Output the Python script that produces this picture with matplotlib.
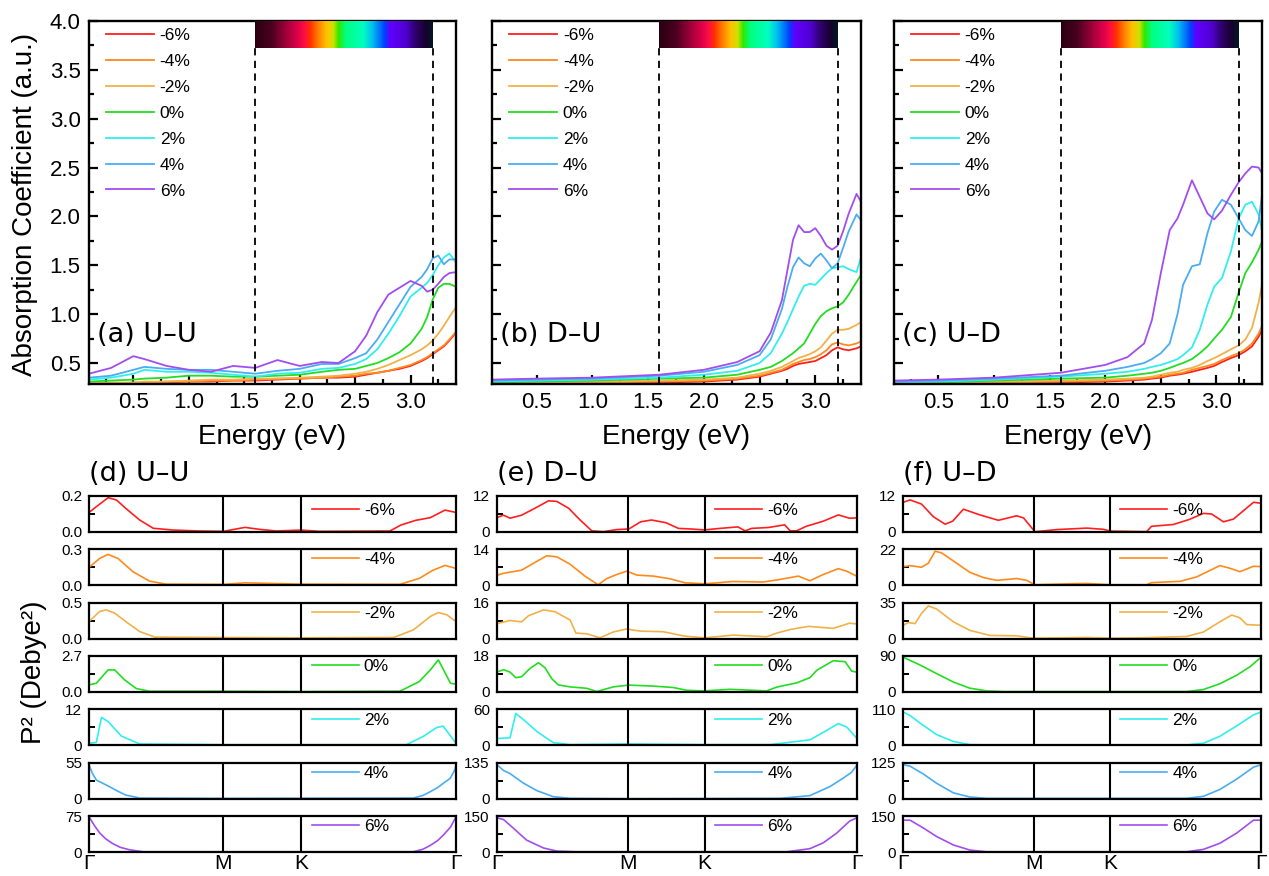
import numpy as np
import matplotlib
matplotlib.use('Agg')
import matplotlib.pyplot as plt
from matplotlib.colors import LinearSegmentedColormap
from matplotlib.ticker import MultipleLocator, FormatStrFormatter

plt.rcParams['font.family'] = ['Liberation Sans', 'DejaVu Sans']

# ------------------------------------------------------------
# datos
# ------------------------------------------------------------
strains = ['-6%', '-4%', '-2%', '0%', '2%', '4%', '6%']
colors = ['#ff1f1f', '#ff8a1c', '#f0b248', '#22dd22', '#30eeee', '#4aacf2', '#a24df0']

# (a) U-U absorption, orden: -6, -4, -2, 0, 2, 4, 6
E_a = [0.10, 0.30, 0.50, 0.60, 0.80, 1.00, 1.20, 1.40, 1.60, 1.80, 2.00, 2.20, 2.35,
       2.50, 2.60, 2.70, 2.80, 2.90, 3.00, 3.10, 3.15, 3.20, 3.25, 3.30, 3.35, 3.41]
abs_a = [
    [0.28, 0.29, 0.29, 0.30, 0.30, 0.31, 0.31, 0.32, 0.32, 0.33, 0.34, 0.35, 0.35,
     0.36, 0.38, 0.40, 0.42, 0.44, 0.47, 0.52, 0.55, 0.59, 0.63, 0.67, 0.73, 0.81],
    [0.29, 0.29, 0.30, 0.30, 0.31, 0.31, 0.32, 0.32, 0.33, 0.34, 0.34, 0.35, 0.36,
     0.37, 0.39, 0.40, 0.42, 0.45, 0.48, 0.53, 0.56, 0.60, 0.64, 0.68, 0.74, 0.82],
    [0.29, 0.30, 0.30, 0.31, 0.31, 0.32, 0.33, 0.33, 0.34, 0.34, 0.35, 0.36, 0.37,
     0.39, 0.41, 0.44, 0.48, 0.53, 0.58, 0.64, 0.68, 0.73, 0.80, 0.88, 0.97, 1.07],
    [0.31, 0.32, 0.33, 0.34, 0.35, 0.37, 0.37, 0.36, 0.36, 0.37, 0.38, 0.41, 0.43,
     0.44, 0.47, 0.50, 0.55, 0.61, 0.70, 0.85, 0.97, 1.15, 1.27, 1.31, 1.31, 1.28],
    [0.33, 0.35, 0.39, 0.43, 0.41, 0.41, 0.40, 0.38, 0.36, 0.39, 0.40, 0.44, 0.45,
     0.49, 0.54, 0.64, 0.80, 0.98, 1.18, 1.27, 1.32, 1.40, 1.50, 1.58, 1.62, 1.53],
    [0.35, 0.37, 0.43, 0.46, 0.44, 0.43, 0.43, 0.41, 0.39, 0.42, 0.44, 0.49, 0.49,
     0.55, 0.60, 0.74, 0.92, 1.10, 1.28, 1.38, 1.46, 1.57, 1.60, 1.51, 1.56, 1.56],
    [0.39, 0.45, 0.57, 0.54, 0.47, 0.43, 0.41, 0.47, 0.45, 0.53, 0.47, 0.51, 0.50,
     0.62, 0.78, 1.02, 1.20, 1.27, 1.34, 1.29, 1.23, 1.25, 1.31, 1.38, 1.42, 1.43],
]

# (b) D-U
E_b = [0.10, 0.50, 1.00, 1.60, 2.00, 2.30, 2.50, 2.60, 2.70, 2.75, 2.80, 2.85,
       2.90, 2.95, 3.00, 3.05, 3.10, 3.15, 3.20, 3.25, 3.30, 3.37, 3.41]
abs_b = [
    [0.28, 0.29, 0.29, 0.30, 0.31, 0.33, 0.36, 0.39, 0.42, 0.44, 0.47, 0.49,
     0.50, 0.51, 0.52, 0.55, 0.58, 0.63, 0.66, 0.64, 0.63, 0.65, 0.67],
    [0.29, 0.29, 0.30, 0.31, 0.32, 0.34, 0.37, 0.40, 0.43, 0.46, 0.49, 0.51,
     0.53, 0.54, 0.56, 0.59, 0.63, 0.69, 0.71, 0.69, 0.68, 0.70, 0.72],
    [0.29, 0.30, 0.31, 0.32, 0.33, 0.35, 0.39, 0.42, 0.46, 0.49, 0.52, 0.55,
     0.57, 0.59, 0.62, 0.66, 0.73, 0.80, 0.84, 0.84, 0.85, 0.89, 0.92],
    [0.30, 0.31, 0.32, 0.34, 0.35, 0.38, 0.43, 0.46, 0.52, 0.56, 0.60, 0.65,
     0.70, 0.80, 0.90, 0.98, 1.03, 1.06, 1.08, 1.12, 1.20, 1.33, 1.40],
    [0.31, 0.32, 0.33, 0.35, 0.38, 0.42, 0.50, 0.60, 0.80, 0.92, 1.05, 1.18,
     1.29, 1.31, 1.30, 1.36, 1.42, 1.47, 1.48, 1.49, 1.46, 1.43, 1.58],
    [0.32, 0.33, 0.34, 0.37, 0.41, 0.48, 0.58, 0.74, 1.05, 1.28, 1.48, 1.58,
     1.52, 1.49, 1.57, 1.62, 1.55, 1.47, 1.52, 1.68, 1.85, 2.02, 1.96],
    [0.33, 0.34, 0.35, 0.38, 0.43, 0.51, 0.62, 0.81, 1.14, 1.45, 1.76, 1.91,
     1.84, 1.84, 1.88, 1.80, 1.70, 1.66, 1.70, 1.85, 2.03, 2.23, 2.15],
]

# (c) U-D
E_c = [0.10, 0.50, 1.00, 1.60, 2.00, 2.20, 2.35, 2.42, 2.50, 2.58, 2.65, 2.70,
       2.78, 2.85, 2.92, 2.98, 3.05, 3.13, 3.20, 3.26, 3.32, 3.38, 3.41]
abs_c = [
    [0.28, 0.29, 0.29, 0.30, 0.31, 0.32, 0.33, 0.34, 0.35, 0.37, 0.38, 0.39,
     0.41, 0.43, 0.45, 0.47, 0.51, 0.55, 0.58, 0.62, 0.67, 0.77, 0.84],
    [0.29, 0.29, 0.30, 0.31, 0.32, 0.33, 0.34, 0.35, 0.36, 0.38, 0.39, 0.40,
     0.43, 0.45, 0.47, 0.49, 0.53, 0.57, 0.60, 0.64, 0.70, 0.80, 0.88],
    [0.29, 0.30, 0.31, 0.32, 0.33, 0.34, 0.35, 0.36, 0.38, 0.40, 0.41, 0.43,
     0.45, 0.48, 0.52, 0.55, 0.59, 0.64, 0.68, 0.74, 0.86, 1.12, 1.30],
    [0.30, 0.30, 0.32, 0.34, 0.35, 0.37, 0.39, 0.40, 0.42, 0.45, 0.48, 0.50,
     0.54, 0.60, 0.67, 0.75, 0.84, 0.97, 1.22, 1.42, 1.53, 1.66, 1.74],
    [0.30, 0.31, 0.33, 0.36, 0.39, 0.41, 0.44, 0.46, 0.48, 0.51, 0.54, 0.58,
     0.66, 0.84, 1.10, 1.28, 1.37, 1.64, 1.98, 2.12, 2.15, 2.02, 1.85],
    [0.31, 0.32, 0.34, 0.37, 0.42, 0.46, 0.50, 0.54, 0.60, 0.70, 1.00, 1.30,
     1.49, 1.51, 1.83, 2.05, 2.17, 2.12, 1.98, 1.86, 1.80, 1.95, 2.22],
    [0.32, 0.33, 0.35, 0.40, 0.48, 0.56, 0.70, 0.94, 1.42, 1.86, 1.98, 2.12,
     2.37, 2.20, 2.03, 1.97, 2.06, 2.22, 2.35, 2.44, 2.51, 2.50, 2.44],
]

# P^2 a lo largo de G-M-K-G (posicion fraccional en el camino)
k_d = [
    [0, 0.02, 0.052, 0.075, 0.10, 0.138, 0.175, 0.23, 0.30, 0.366, 0.425, 0.465, 0.51,
     0.577, 0.63, 0.82, 0.85, 0.89, 0.93, 0.97, 1.0],
    [0, 0.029, 0.052, 0.079, 0.12, 0.165, 0.21, 0.366, 0.425, 0.577, 0.847, 0.90, 0.938,
     0.97, 1.0],
    [0, 0.029, 0.047, 0.07, 0.10, 0.138, 0.18, 0.366, 0.577, 0.83, 0.884, 0.93, 0.952,
     0.975, 1.0],
    [0, 0.02, 0.052, 0.07, 0.097, 0.129, 0.165, 0.366, 0.577, 0.847, 0.90, 0.93, 0.952,
     0.985, 1.0],
    [0, 0.02, 0.034, 0.052, 0.088, 0.138, 0.366, 0.865, 0.91, 0.947, 0.965, 1.0],
    [0, 0.01, 0.02, 0.056, 0.08, 0.10, 0.138, 0.366, 0.884, 0.91, 0.93, 0.95, 0.965,
     0.984, 0.995, 1.0],
    [0, 0.015, 0.029, 0.045, 0.065, 0.085, 0.11, 0.147, 0.884, 0.91, 0.93, 0.95, 0.965,
     0.985, 1.0],
]
p2_d = [
    [0.107, 0.139, 0.189, 0.176, 0.13, 0.065, 0.019, 0.009, 0.004, 0.002, 0.024, 0.013,
     0.004, 0.009, 0.002, 0.004, 0.037, 0.063, 0.078, 0.12, 0.107],
    [0.147, 0.222, 0.256, 0.222, 0.111, 0.033, 0.008, 0.006, 0.019, 0.008, 0.006, 0.056,
     0.125, 0.164, 0.139],
    [0.236, 0.375, 0.398, 0.352, 0.236, 0.097, 0.019, 0.014, 0.009, 0.014, 0.12, 0.306,
     0.361, 0.329, 0.236],
    [0.525, 0.65, 1.65, 1.65, 0.9, 0.25, 0.05, 0.05, 0.025, 0.05, 0.775, 1.65, 2.4,
     0.65, 0.575],
    [0.67, 1.0, 9.3, 7.9, 3.1, 0.44, 0.2, 0.2, 2.9, 5.9, 6.4, 0.67],
    [51.4, 38, 28.5, 18.3, 11, 5.6, 1.0, 0.5, 1.0, 5, 10.7, 17, 23.4, 31, 42, 51.4],
    [73.6, 55, 40, 28, 17.5, 10, 4.9, 0.7, 0.7, 6, 14, 24, 35, 52, 73.6],
]
ymax_d = ['0.2', '0.3', '0.5', '2.7', '12', '55', '75']

k_e = [
    [0, 0.019, 0.037, 0.069, 0.106, 0.144, 0.167, 0.2, 0.23, 0.264, 0.296, 0.333, 0.367,
     0.40, 0.43, 0.47, 0.505, 0.54, 0.577, 0.62, 0.67, 0.69, 0.708, 0.755, 0.80, 0.815,
     0.833, 0.86, 0.907, 0.949, 0.98, 1.0],
    [0, 0.019, 0.069, 0.106, 0.139, 0.167, 0.204, 0.245, 0.282, 0.305, 0.333, 0.361,
     0.367, 0.389, 0.435, 0.48, 0.523, 0.577, 0.657, 0.74, 0.787, 0.838, 0.87, 0.907,
     0.949, 0.972, 1.0],
    [0, 0.037, 0.069, 0.088, 0.13, 0.162, 0.204, 0.22, 0.25, 0.287, 0.324, 0.361, 0.398,
     0.463, 0.52, 0.577, 0.657, 0.75, 0.778, 0.815, 0.866, 0.935, 0.98, 1.0],
    [0, 0.019, 0.037, 0.053, 0.069, 0.093, 0.116, 0.134, 0.153, 0.171, 0.204, 0.25,
     0.278, 0.324, 0.367, 0.435, 0.49, 0.528, 0.577, 0.648, 0.75, 0.778, 0.833, 0.87,
     0.889, 0.935, 0.968, 0.986, 1.0],
    [0, 0.037, 0.053, 0.074, 0.111, 0.157, 0.204, 0.367, 0.577, 0.76, 0.87, 0.907,
     0.949, 0.972, 1.0],
    [0, 0.019, 0.037, 0.074, 0.111, 0.157, 0.204, 0.367, 0.787, 0.87, 0.926, 0.963,
     0.986, 1.0],
    [0, 0.019, 0.046, 0.083, 0.13, 0.167, 0.222, 0.806, 0.87, 0.907, 0.944, 0.98, 1.0],
]
p2_e = [
    [4.7, 5.5, 4.5, 5.5, 7.8, 10.3, 10.1, 7.8, 4.1, 0.3, 0, 0.7, 0.9, 3.3, 3.9, 3.0,
     1.1, 0.9, 0.6, 1.1, 1.6, 0.3, 1.1, 1.4, 2.3, 0.3, 0.3, 1.8, 3.5, 5.6, 4.5, 4.6],
    [3.8, 4.6, 5.8, 8.8, 11.4, 11.0, 8.1, 3.5, 0.1, 2.5, 4.1, 5.4, 5.1, 3.9, 3.5, 2.5,
     0.9, 0.5, 1.4, 1.2, 2.2, 3.5, 1.7, 4.1, 6.4, 5.4, 3.5],
    [6.6, 8.0, 7.4, 10.1, 12.7, 11.9, 8.2, 2.4, 2.1, 0.3, 2.9, 4.2, 3.3, 3.0, 1.1, 0.3,
     1.5, 0.8, 2.4, 4.0, 5.4, 4.5, 6.8, 6.5],
    [9.9, 11.1, 9.9, 7.1, 7.6, 11.8, 14.6, 12.1, 6.6, 3.5, 2.5, 1.8, 0.2, 2.5, 3.4, 2.9,
     2.2, 0.8, 0.5, 1.3, 0.5, 2.4, 4.5, 7.1, 10.8, 15.6, 15.1, 10.4, 9.9],
    [11.3, 12.5, 53.2, 43, 23.2, 4.5, 1.1, 2.3, 1.1, 1.1, 9.1, 21.5, 36.2, 30.6, 11.9],
    [128.6, 105.7, 94.3, 58.6, 30.6, 7.6, 1.3, 0, 1.3, 11.5, 45.8, 77.6, 99.3, 124.8],
    [142.9, 135.7, 100, 50, 17.1, 4.3, 1.4, 1.4, 14.3, 38.6, 78.6, 128.6, 142.9],
]
ymax_e = ['12', '14', '16', '18', '60', '135', '150']

k_f = [
    [0, 0.019, 0.051, 0.084, 0.117, 0.138, 0.168, 0.214, 0.266, 0.317, 0.336, 0.368,
     0.429, 0.513, 0.559, 0.579, 0.68, 0.694, 0.755, 0.80, 0.839, 0.862, 0.895, 0.923,
     0.979, 1.0],
    [0, 0.019, 0.051, 0.07, 0.089, 0.107, 0.149, 0.186, 0.224, 0.261, 0.317, 0.345,
     0.368, 0.466, 0.513, 0.579, 0.68, 0.694, 0.774, 0.82, 0.885, 0.913, 0.941, 0.979,
     1.0],
    [0, 0.014, 0.033, 0.051, 0.07, 0.093, 0.14, 0.186, 0.242, 0.317, 0.354, 0.368, 0.513,
     0.579, 0.671, 0.792, 0.839, 0.885, 0.918, 0.941, 0.96, 1.0],
    [0, 0.047, 0.093, 0.14, 0.186, 0.233, 0.28, 0.792, 0.839, 0.885, 0.932, 0.969, 1.0],
    [0, 0.019, 0.047, 0.093, 0.14, 0.186, 0.233, 0.792, 0.839, 0.885, 0.932, 0.979, 1.0],
    [0, 0.019, 0.056, 0.093, 0.14, 0.186, 0.233, 0.792, 0.839, 0.885, 0.932, 0.979, 1.0],
    [0, 0.019, 0.056, 0.093, 0.14, 0.186, 0.233, 0.792, 0.839, 0.885, 0.932, 0.979, 1.0],
]
p2_f = [
    [9.8, 10.6, 9.2, 5.0, 2.5, 3.5, 7.5, 5.6, 3.8, 5.3, 4.6, 0, 0.7, 1.2, 0.8, 0.2, 0,
     1.8, 2.4, 4.1, 6.1, 5.9, 3.3, 4.2, 9.8, 9.5],
    [11.3, 11.9, 10.9, 13.4, 20.7, 19.7, 13.4, 7.8, 4.6, 2.9, 4.0, 2.9, 0.2, 0.8, 1.0,
     0.2, 0.2, 1.5, 2.3, 5.0, 11.9, 10.3, 8.2, 11.5, 11.3],
    [12.9, 15.5, 14.5, 24.4, 31.7, 28.7, 16.2, 7.9, 3.0, 2.6, 0.7, 0.3, 1.0, 0.3, 0.7,
     2.0, 6.3, 16.2, 22.8, 20.1, 13.5, 12.9],
    [86.6, 67.1, 45.8, 24.6, 9.3, 2.5, 0.8, 0.8, 5.9, 20.4, 41.6, 62.8, 86.6],
    [101.5, 91, 67.7, 32.8, 11.6, 2.1, 1.1, 1.1, 6.3, 27.5, 59.2, 93.1, 101.5],
    [117.9, 113, 85.7, 53.6, 20.2, 6.0, 1.2, 1.2, 8.3, 32.1, 67.9, 109.5, 117.9],
    [133, 133, 100.5, 65, 29.7, 8.5, 1.4, 1.4, 11.3, 36.8, 79.2, 133, 133],
]
ymax_f = ['12', '22', '35', '90', '110', '125', '150']

# camino hexagonal G-M-K-G
seg_gm, seg_mk, seg_kg = 1 / np.sqrt(3), 1 / 3, 2 / 3
tot = seg_gm + seg_mk + seg_kg
hs_pos = [0, seg_gm / tot, (seg_gm + seg_mk) / tot, 1]
hs_lab = ['Γ', 'M', 'K', 'Γ']

vis_lo, vis_hi = 1.6, 3.2   # rango visible (eV)
spec_stops = [(0.00, '#2a0010'), (0.09, '#4a0020'), (0.16, '#900035'), (0.24, '#e0004a'),
              (0.28, '#ff1040'), (0.31, '#ff3000'), (0.35, '#ff7800'), (0.40, '#ffc000'),
              (0.44, '#d0e000'), (0.47, '#30e800'), (0.51, '#00ff80'), (0.61, '#00ffc0'),
              (0.66, '#00c0f0'), (0.73, '#0040ff'), (0.76, '#6000ff'), (0.85, '#5000d0'),
              (0.90, '#300070'), (0.96, '#180030'), (1.00, '#001820')]
spec_cmap = LinearSegmentedColormap.from_list('vis', spec_stops)

# ------------------------------------------------------------
# figura
# ------------------------------------------------------------
W, H = 1269, 876
fig = plt.figure(figsize=(W / 100, H / 100), dpi=100)

top_lefts = [89, 492, 894]
top_widths = [367, 369, 368]
top_data = [(E_a, abs_a, '(a) U–U'), (E_b, abs_b, '(b) D–U'), (E_c, abs_c, '(c) U–D')]
ylo, yhi = 0.285, 4.0

for j, (E, A, lab) in enumerate(top_data):
    ax = fig.add_axes([top_lefts[j] / W, 1 - 384 / H, top_widths[j] / W, 363 / H])
    for i in range(7):
        ax.plot(E, A[i], color=colors[i], lw=1.3, label=strains[i])
    ax.imshow(np.linspace(0, 1, 256)[None, :], extent=[vis_lo, vis_hi, 3.72, yhi],
              aspect='auto', cmap=spec_cmap, zorder=3)
    ax.vlines([vis_lo, vis_hi], ylo, 3.72, colors='k', linestyles=(0, (4, 3)), lw=1.3)
    ax.set_xlim(0.1, 3.41)
    ax.set_ylim(ylo, yhi)
    ax.xaxis.set_major_locator(MultipleLocator(0.5))
    ax.xaxis.set_minor_locator(MultipleLocator(0.25))
    ax.yaxis.set_major_locator(MultipleLocator(0.5))
    ax.yaxis.set_minor_locator(MultipleLocator(0.25))
    ax.xaxis.set_major_formatter(FormatStrFormatter('%.1f'))
    ax.yaxis.set_major_formatter(FormatStrFormatter('%.1f'))
    ax.tick_params(which='both', direction='in', width=1.6, labelsize=16, top=False, right=False)
    ax.tick_params(which='major', length=6.5, pad=6)
    ax.tick_params(which='minor', length=3.5)
    if j > 0:
        ax.tick_params(axis='y', labelleft=False)
    for s in ax.spines.values():
        s.set_linewidth(1.7)
    ax.set_xlabel('Energy (eV)', fontsize=20, labelpad=8)
    ax.text(0.022, 0.135, lab, transform=ax.transAxes, fontsize=19.5,
            family='DejaVu Sans', va='center', ha='left')
    ax.legend(loc='upper left', bbox_to_anchor=(0.046, 0.981), frameon=False, fontsize=12.5,
              handlelength=2.75, handletextpad=0.35, labelspacing=0.62, borderpad=0,
              borderaxespad=0)

fig.text(25 / W, 1 - 204 / H, 'Absorption Coefficient (a.u.)', rotation=90,
         fontsize=20, ha='center', va='center')

bot_lefts = [89, 496.7, 903.3]
bot_widths = [367, 360, 357.7]
bot_data = [(k_d, p2_d, ymax_d, '(d) U–U'), (k_e, p2_e, ymax_e, '(e) D–U'),
            (k_f, p2_f, ymax_f, '(f) U–D')]

for j, (K, P, Ymax, lab) in enumerate(bot_data):
    for i in range(7):
        top_px = 495.7 + i * 53.4
        ax = fig.add_axes([bot_lefts[j] / W, 1 - (top_px + 36) / H, bot_widths[j] / W, 36 / H])
        ymax = float(Ymax[i])
        ax.plot(K[i], P[i], color=colors[i], lw=1.2, label=strains[i])
        for xv in hs_pos[1:3]:
            ax.axvline(xv, color='k', lw=1.5)
        ax.set_xlim(0, 1)
        ax.set_ylim(0, ymax)
        zero = '0.0' if '.' in Ymax[i] else '0'
        ax.set_yticks([0, ymax / 2, ymax])
        ax.set_yticklabels([zero, '', Ymax[i]])
        ax.tick_params(axis='y', direction='in', length=4, width=1.4, labelsize=11, pad=5)
        ax.set_xticks(hs_pos)
        if i == 6:
            ax.set_xticklabels(hs_lab)
            ax.tick_params(axis='x', length=0, labelsize=15, pad=1.5)
        else:
            ax.tick_params(axis='x', length=0, labelbottom=False)
        for s in ax.spines.values():
            s.set_linewidth(1.6)
        ax.legend(loc='center left', bbox_to_anchor=(0.607, 0.6 if i == 0 else 0.7),
                  frameon=False, fontsize=12.5, handlelength=2.7, handletextpad=0.3,
                  borderpad=0, borderaxespad=0)
        if i == 0:
            ax.text(0, 1.6, lab, transform=ax.transAxes, fontsize=19.5,
                    family='DejaVu Sans', va='center', ha='left')

fig.text(34 / W, 1 - 672 / H, 'P² (Debye²)', rotation=90, fontsize=20,
         ha='center', va='center')

fig.savefig('out.png', dpi=100)
